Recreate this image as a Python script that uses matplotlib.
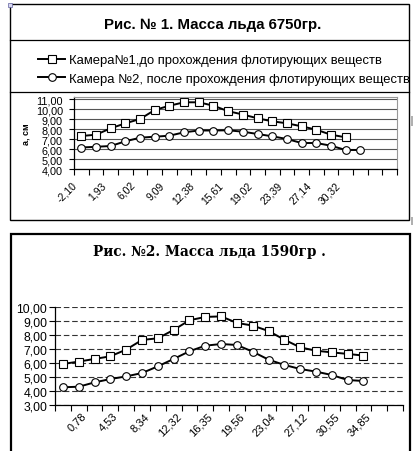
import matplotlib
matplotlib.use("Agg")
import matplotlib.pyplot as plt
import matplotlib.transforms as mtransforms
from matplotlib.lines import Line2D
from matplotlib.patches import Rectangle

W, H = 415, 452

# ---- Рис. 1 : масса льда 6750 гр
cam1_before = [7.30, 7.43, 8.07, 8.57, 9.00, 9.90, 10.33, 10.67, 10.67, 10.33,
               9.78, 9.45, 9.07, 8.77, 8.57, 8.27, 7.93, 7.43, 7.17]
cam2_after = [6.15, 6.22, 6.30, 6.77, 7.13, 7.23, 7.33, 7.67, 7.85, 7.85,
              7.87, 7.73, 7.50, 7.27, 7.00, 6.60, 6.60, 6.33, 5.90, 5.90]
labels1 = ["-2,10", "1,93", "6,02", "9,09", "12,38", "15,61", "19,02",
           "23,39", "27,14", "30,32"]
label1_pos = [0, 2, 4, 6, 8, 10, 12, 14, 16, 18]

# ---- Рис. 2 : масса льда 1590 гр
fig2_sq = [5.94, 6.11, 6.30, 6.49, 6.97, 7.66, 7.78, 8.38, 9.07, 9.31,
           9.35, 8.88, 8.69, 8.30, 7.68, 7.13, 6.89, 6.77, 6.66, 6.54]
fig2_ci = [4.27, 4.31, 4.62, 4.86, 5.05, 5.29, 5.77, 6.30, 6.85, 7.25,
           7.37, 7.30, 6.82, 6.25, 5.87, 5.58, 5.39, 5.15, 4.79, 4.72]
labels2 = ["0,78", "4,53", "8,34", "12,32", "16,35", "19,56", "23,04",
           "27,12", "30,55", "34,85"]
label2_pos = [2, 4, 6, 8, 10, 12, 14, 16, 18, 20]

N_CAT = 22

plt.rcParams["font.family"] = ["Liberation Sans", "DejaVu Sans"]


def box(x0, y0, x1, y1):
    # pixel box (top-left origin) -> figure fraction rect
    return [x0 / W, 1 - y1 / H, (x1 - x0) / W, (y1 - y0) / H]


def hline(fig, y, x0, x1, **kw):
    fig.add_artist(Line2D([x0 / W, x1 / W], [1 - y / H, 1 - y / H],
                          transform=fig.transFigure, **kw))


def comma(v):
    return f"{v:.2f}".replace(".", ",")


def cat_axis(ax, positions, labels, dx_px, pad, size):
    ax.set_xlim(-0.5, N_CAT - 0.5)
    ax.set_xticks([i - 0.5 for i in range(N_CAT + 1)], minor=True)
    ax.set_xticks(positions)
    ax.set_xticklabels(labels, rotation=45, ha="right", va="top", fontsize=size)
    ax.tick_params(axis="x", which="major", length=0, pad=pad)
    ax.tick_params(axis="x", which="minor", length=4, width=0.8, direction="out")
    off = mtransforms.ScaledTranslation(dx_px / 100, 0, ax.figure.dpi_scale_trans)
    for t in ax.get_xticklabels():
        t.set_transform(t.get_transform() + off)


fig = plt.figure(figsize=(W / 100, H / 100), dpi=100)

# ================= chart 1 =================
fig.add_artist(Rectangle((10 / W, 1 - 221 / H), 399 / W, 216 / H,
                         transform=fig.transFigure, fill=False, lw=1.0, ec="black"))
hline(fig, 40.7, 10, 409, color="black", lw=0.9)
hline(fig, 92.7, 10, 409, color="black", lw=0.9)
fig.add_artist(Rectangle((8 / W, 1 - 8 / H), 4 / W, 4 / H, transform=fig.transFigure,
                         fill=True, fc="#d8d8f0", ec="#6060a0", lw=0.5))
fig.add_artist(Rectangle((410.5 / W, 1 - 127 / H), 2.5 / W, 10 / H,
                         transform=fig.transFigure, fc="#b0b0b0", ec="none"))
fig.add_artist(Rectangle((410.5 / W, 1 - 226 / H), 2.5 / W, 8 / H,
                         transform=fig.transFigure, fc="#b0b0b0", ec="none"))

fig.text(213 / W, 1 - 24.5 / H, "Рис. № 1. Масса льда 6750гр.", ha="center",
         va="center", fontsize=10.8, fontweight="bold")

ax1 = fig.add_axes(box(74, 97.5, 397, 170))
x1a = list(range(len(cam1_before)))
x1b = list(range(len(cam2_after)))
l1, = ax1.plot(x1a, cam1_before, color="black", lw=1.4, marker="s", ms=5.5,
               mfc="white", mec="black", mew=0.8)
l2, = ax1.plot(x1b, cam2_after, color="black", lw=1.4, marker="o", ms=5.5,
               mfc="white", mec="black", mew=0.8)
ax1.set_ylim(4, 11.25)
ax1.set_yticks(range(4, 12))
ax1.set_yticklabels([comma(v) for v in range(4, 12)], fontsize=7.8)
ax1.tick_params(axis="y", length=3.5, width=0.8, pad=4.5)
ax1.grid(axis="y", color="#555555", lw=0.8)
ax1.set_axisbelow(True)
for s in ["top", "right"]:
    ax1.spines[s].set_color("#999999")
    ax1.spines[s].set_linewidth(0.8)
ax1.spines["left"].set_linewidth(0.9)
ax1.spines["bottom"].set_linewidth(0.9)
cat_axis(ax1, label1_pos, labels1, -3, 7.5, 7.5)
ax1.set_ylabel("а, см", fontsize=6.5, fontweight="bold", labelpad=4)

# legend rows run past the chart frame, so the text is clipped at its right edge
leg = fig.legend([l1, l2],
                 ["Камера№1,до прохождения флотирующих веществ",
                  "Камера №2, после прохождения флотирующих веществ"],
                 loc="upper left", bbox_to_anchor=(38 / W, 1 - 55 / H),
                 frameon=False, fontsize=9.4, handlelength=2.1,
                 handletextpad=0.25, labelspacing=0.52, borderaxespad=0,
                 borderpad=0)
clip = mtransforms.Bbox.from_extents(0, 0, 409, H)
for t in leg.get_texts():
    t.set_clip_box(clip)
    t.set_clip_on(True)

# ================= chart 2 =================
fig.add_artist(Rectangle((11 / W, 1 - 460 / H), 399 / W, 225 / H,
                         transform=fig.transFigure, fill=False, lw=1.6, ec="black"))
fig.text(209 / W, 1 - 252 / H, "Рис. №2. Масса льда 1590гр .", ha="center",
         va="center", fontsize=9.8, fontweight="bold",
         family=["DejaVu Serif"])

ax2 = fig.add_axes(box(55, 308.3, 403, 406))
ax2.plot(range(len(fig2_sq)), fig2_sq, color="black", lw=1.4, marker="s", ms=5.5,
         mfc="white", mec="black", mew=0.8)
ax2.plot(range(len(fig2_ci)), fig2_ci, color="black", lw=1.4, marker="o", ms=5.5,
         mfc="white", mec="black", mew=0.8)
ax2.set_ylim(3, 10)
ax2.set_yticks(range(3, 11))
ax2.set_yticklabels([comma(v) for v in range(3, 11)], fontsize=8.8)
ax2.tick_params(axis="y", length=4.5, width=0.8, pad=1.0)
ax2.grid(axis="y", color="#333333", lw=0.8, ls=(0, (5, 2.5)))
ax2.set_axisbelow(True)
ax2.spines["top"].set_visible(False)
ax2.spines["right"].set_visible(False)
ax2.spines["left"].set_linewidth(0.9)
ax2.spines["bottom"].set_linewidth(0.9)
cat_axis(ax2, label2_pos, labels2, -6.5, 4, 8.0)

fig.savefig("out.png", dpi=100)
